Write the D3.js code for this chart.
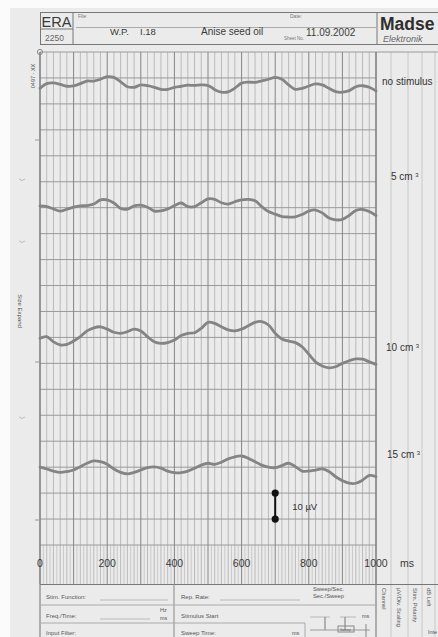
<!DOCTYPE html>
<html><head><meta charset="utf-8">
<script src="https://cdn.jsdelivr.net/npm/d3@7/dist/d3.min.js"></script>
<style>
body{margin:0;background:#fff}
svg{display:block}
text{font-family:"Liberation Sans",Arial,Helvetica,sans-serif}
</style>
</head><body><svg id="c" width="438" height="637"></svg>
<script>
// ---------------- DATA ----------------
const times = [0,20,40,60,80,100,120,140,160,180,200,220,240,260,280,300,320,340,360,380,400,
  420,440,460,480,500,520,540,560,580,600,620,640,660,680,700,720,740,760,780,800,
  820,840,860,880,900,920,940,960,980,1000];
const traceLabels = ["no stimulus", "5 cm", "10 cm", "15 cm"];
const traceSup = ["", "3", "3", "3"];
// baseline of each trace on the sheet (µV, 10 µV per division)
const baselines = [177, 130, 80, 30];
// deviations from the baseline (µV)
const noStimulus = [-1.0,0.8,1.1,0.5,-0.2,-0.1,0.8,1.8,1.8,2.5,3.5,3.2,1.5,-0.4,-0.6,0.3,0,-0.6,-1.4,-1.4,-0.6,
  -0.2,0.2,0.1,0.3,0.1,-1.5,-2.5,-2.4,-0.9,1.0,1.4,1.3,1.9,2.5,3.2,2.5,0.3,-1.4,-1.0,-0.1,
  0.7,0.3,-1.0,-2.3,-2.5,-1.9,-0.4,0,-0.6,-2.0];
const cm5 = [0.7,0.4,-0.5,-1.3,-0.6,0.2,0.7,0.8,1.4,3.0,3.0,1.8,-0.3,-0.6,0.7,1.0,0.2,-1.3,-1.2,-0.5,0.8,
  1.8,0.4,0.4,1.9,3.4,3.2,1.9,1.4,2.3,3.0,3.2,2.7,0.4,-1.5,-2.5,-3.4,-3.6,-3.5,-2.6,-1.3,
  -0.9,-2.0,-4.0,-4.7,-4.5,-3.0,-1.1,-0.7,-1.5,-3.0];
const cm10 = [-0.3,0.3,-1.7,-2.9,-2.7,-1.4,0.3,2.5,3.7,4.1,3.2,2.0,1.6,2.2,3.2,2.5,0.3,-1.7,-2.3,-2.0,-1.0,
  0.7,1.6,1.8,3.5,5.8,5.4,4.1,2.9,2.5,3.2,4.5,5.8,6.1,4.8,1.6,-0.6,-1.4,-2.0,-3.6,-6.5,
  -9.4,-11.0,-11.7,-11.3,-10.0,-9.0,-8.3,-8.4,-9.4,-10.4];
const cm15 = [0,-0.7,-1.5,-2.0,-1.7,-1.1,0.2,1.5,2.4,2.1,1.1,-0.7,-2.0,-2.6,-2.0,-1.1,-0.2,0.1,-0.4,-1.5,-2.1,
  -2.1,-1.5,-0.4,0.8,1.5,1.1,1.9,3.2,4.0,4.3,3.4,2.1,0.8,0,-0.2,0.6,1.5,0.2,-1.5,-1.5,
  -1.1,-0.7,-1.7,-3.7,-5.2,-6.2,-6.2,-5.0,-3.2,-3.7];
const series = [noStimulus, cm5, cm10, cm15];
const xTicks = [0, 200, 400, 600, 800, 1000];
const scaleBarTime = 700;
const scaleBarRange = [10, 20];   // µV
const scaleBarLabel = "10 µV";

// ---------------- LAYOUT ----------------
const W = 438, H = 637;
const svg = d3.select("#c");
const x = d3.scaleLinear().domain([0, 1000]).range([40, 376]);
const y = d3.scaleLinear().domain([0, 190]).range([545, 52]);
const labelLevels = [178.5, 142, 76, 34.7];
const labelX = [382, 391, 386, 387];

// sheet background
svg.append("rect").attr("width", W).attr("height", H).attr("fill", "#fbfbfb");
svg.append("rect").attr("x", 10).attr("y", 8).attr("width", W - 10).attr("height", H - 8).attr("fill", "#ebebeb");

// ---- grid ----
const g = svg.append("g");
// right-hand columns
[391, 408, 422, 435].forEach(cx => g.append("line").attr("x1", cx).attr("x2", cx)
  .attr("y1", 52).attr("y2", H).attr("stroke", "#c4c4c4").attr("stroke-width", 0.9));
// minor verticals (20 ms)
d3.range(0, 1001, 20).filter(t => t % 100 !== 0).forEach(t => {
  g.append("line").attr("x1", x(t)).attr("x2", x(t)).attr("y1", y(190)).attr("y2", 584)
    .attr("stroke", "#b4b4b4").attr("stroke-width", 0.9);
});
// 10 ms ticks in the label band
d3.range(0, 1001, 10).filter(t => t % 20 !== 0).forEach(t => {
  g.append("line").attr("x1", x(t)).attr("x2", x(t)).attr("y1", y(0)).attr("y2", 584)
    .attr("stroke", "#c0c0c0").attr("stroke-width", 0.8);
});
// horizontal lines every 10 µV
d3.range(0, 191, 10).forEach(v => {
  g.append("line").attr("x1", x(0)).attr("x2", v === 190 ? W : x(1000)).attr("y1", y(v)).attr("y2", y(v))
    .attr("stroke", "#9a9a9a").attr("stroke-width", 1);
});
// major verticals (100 ms)
d3.range(0, 1001, 100).forEach(t => {
  g.append("line").attr("x1", x(t)).attr("x2", x(t)).attr("y1", y(190)).attr("y2", 584)
    .attr("stroke", "#858585").attr("stroke-width", 1);
});
g.append("line").attr("x1", x(1000)).attr("x2", x(1000)).attr("y1", y(190)).attr("y2", H)
  .attr("stroke", "#7a7a7a").attr("stroke-width", 1.1);
g.append("line").attr("x1", x(0)).attr("x2", x(0)).attr("y1", y(190)).attr("y2", H)
  .attr("stroke", "#7a7a7a").attr("stroke-width", 1.1);
// small registration mark
svg.append("circle").attr("cx", x(0)).attr("cy", y(190)).attr("r", 2.6).attr("fill", "none").attr("stroke", "#888");

// ---- traces ----
const line = d3.line().x(d => x(d[0])).y(d => y(d[1])).curve(d3.curveCatmullRom.alpha(0.5));
series.forEach((s, i) => {
  const pts = times.map((t, k) => [t, baselines[i] + s[k]]);
  svg.append("path").attr("d", line(pts)).attr("fill", "none")
    .attr("stroke", "#848484").attr("stroke-width", 2.8).attr("stroke-linejoin", "round")
    .attr("stroke-linecap", "round");
});

// ---- trace labels ----
traceLabels.forEach((lab, i) => {
  const t = svg.append("text").attr("x", labelX[i]).attr("y", y(labelLevels[i]) + 3.5)
    .attr("font-size", 10).attr("fill", "#333").text(lab);
  if (traceSup[i]) t.append("tspan").attr("dx", 2.5).attr("dy", -3).attr("font-size", 6).text(traceSup[i]);
});

// ---- scale bar ----
svg.append("line").attr("x1", x(scaleBarTime)).attr("x2", x(scaleBarTime))
  .attr("y1", y(scaleBarRange[0])).attr("y2", y(scaleBarRange[1])).attr("stroke", "#111").attr("stroke-width", 2);
scaleBarRange.forEach(v => svg.append("circle").attr("cx", x(scaleBarTime)).attr("cy", y(v)).attr("r", 3.6).attr("fill", "#111"));
svg.append("text").attr("x", x(scaleBarTime) + 17).attr("y", y(d3.mean(scaleBarRange)) + 3.5)
  .attr("font-size", 9.5).attr("fill", "#333").text(scaleBarLabel);

// ---- x axis labels ----
xTicks.forEach(t => svg.append("text").attr("x", x(t)).attr("y", 567).attr("text-anchor", "middle")
  .attr("font-size", 10.5).attr("fill", "#3a3a3a").text(t));
svg.append("text").attr("x", 407).attr("y", 567).attr("text-anchor", "middle")
  .attr("font-size", 10.5).attr("fill", "#3a3a3a").text("ms");

// ---- header ----
const hd = svg.append("g").attr("stroke", "#777").attr("fill", "none").attr("stroke-width", 1);
hd.append("rect").attr("x", 40.5).attr("y", 12.5).attr("width", W - 40).attr("height", 32);
hd.append("line").attr("x1", 73).attr("x2", 73).attr("y1", 12).attr("y2", 45);
hd.append("line").attr("x1", 377).attr("x2", 377).attr("y1", 12).attr("y2", 45);
hd.append("line").attr("x1", 40).attr("x2", 73).attr("y1", 29).attr("y2", 29);
hd.append("line").attr("x1", 76).attr("x2", 377).attr("y1", 27.5).attr("y2", 27.5).attr("stroke", "#aaa");
const ht = (tx, xx, yy, fs, extra) => {
  const e = svg.append("text").attr("x", xx).attr("y", yy).attr("font-size", fs).attr("fill", "#3a3a3a").text(tx);
  if (extra) extra(e);
  return e;
};
ht("ERA", 41.5, 27, 14.5);
ht("2250", 45, 41, 8.5, e => e.attr("fill", "#666"));
ht("File:", 78, 18, 5, e => e.attr("fill", "#777"));
ht("Date:", 290, 18, 5, e => e.attr("fill", "#777"));
ht("W.P.", 110, 35, 9.5);
ht("I.18", 140, 35, 9.5);
ht("Anise seed oil", 201, 35, 10);
ht("Sheet No.", 284, 39.5, 4.5, e => e.attr("fill", "#777"));
ht("11.09.2002", 306, 35.5, 10);
ht("Madse", 380, 30, 17.5, e => e.attr("font-weight", "bold").attr("fill", "#2e2e2e"));
ht("Elektronik", 383, 42, 9, e => e.attr("font-style", "italic").attr("fill", "#666")
  .attr("font-family", "DejaVu Serif, serif"));

// ---- left margin ----
svg.append("text").attr("transform", "translate(35,76) rotate(-90)").attr("text-anchor", "middle")
  .attr("font-size", 5.5).attr("fill", "#555").text("0497 - XX");
svg.append("text").attr("transform", "translate(18,311) rotate(90)").attr("text-anchor", "middle")
  .attr("font-size", 6).attr("fill", "#555").text("Size Expand");
[140, 362, 520].forEach(yy => svg.append("line").attr("x1", 35).attr("x2", 40).attr("y1", yy).attr("y2", yy)
  .attr("stroke", "#999"));
[180, 242, 418].forEach(yy => svg.append("path")
  .attr("d", `M19,${yy - 1} Q22,${yy + 2} 25,${yy - 1}`).attr("fill", "none").attr("stroke", "#bbb"));

// ---- bottom form ----
const fm = svg.append("g").attr("stroke", "#888").attr("stroke-width", 1).attr("fill", "none");
fm.append("line").attr("x1", 40).attr("x2", W).attr("y1", 584.5).attr("y2", 584.5).attr("stroke", "#777");
fm.append("line").attr("x1", 174).attr("x2", 174).attr("y1", 584).attr("y2", H);
fm.append("line").attr("x1", 40).attr("x2", 377).attr("y1", 605).attr("y2", 605).attr("stroke", "#aaa");
fm.append("line").attr("x1", 40).attr("x2", 305).attr("y1", 623).attr("y2", 623).attr("stroke", "#aaa");
fm.append("line").attr("x1", 305).attr("x2", 305).attr("y1", 623).attr("y2", H).attr("stroke", "#aaa");
// underlines
[[100, 168, 600], [220, 300, 600], [100, 150, 619], [310, 330, 617], [340, 356, 617]].forEach(a =>
  fm.append("line").attr("x1", a[0]).attr("x2", a[1]).attr("y1", a[2]).attr("y2", a[2]).attr("stroke", "#999").attr("stroke-width", 0.6));
// timing diagram
fm.append("line").attr("x1", 325).attr("x2", 325).attr("y1", 617).attr("y2", 630).attr("stroke", "#777");
fm.append("line").attr("x1", 345).attr("x2", 345).attr("y1", 617).attr("y2", 630).attr("stroke", "#777");
fm.append("line").attr("x1", 310).attr("x2", 370).attr("y1", 630).attr("y2", 630).attr("stroke", "#999");
fm.append("rect").attr("x", 338).attr("y", 626).attr("width", 16).attr("height", 6).attr("stroke", "#888");
fm.append("line").attr("x1", 366).attr("x2", 366).attr("y1", 624).attr("y2", 637).attr("stroke", "#888");
const ft = (tx, xx, yy, fs = 6) => svg.append("text").attr("x", xx).attr("y", yy).attr("font-size", fs)
  .attr("fill", "#555").text(tx);
ft("Stim. Function:", 46, 599);
ft("Rep. Rate:", 181, 599);
ft("Sweep/Sec.", 313, 590.5, 5.8);
ft("Sec./Sweep", 313, 598, 5.8);
ft("Freq./Time:", 46, 618);
ft("Hz", 160, 612, 5.5);
ft("ms", 160, 620, 5.5);
ft("Stimulus Start", 181, 618);
ft("ms", 362, 618, 5.5);
ft("Input Filter:", 46, 635);
ft("Sweep Time:", 181, 635);
ft("ms", 292, 635, 5.5);
ft("Sweep", 340, 631, 3.5);
ft("Inte", 428, 634, 5.5);
[["Channel", 382], ["µV/Div. Scaling", 397], ["Stim. Polarity", 413], ["dB Left", 427]].forEach(a =>
  svg.append("text").attr("transform", `translate(${a[1]},588) rotate(90)`).attr("font-size", 5.8)
    .attr("fill", "#555").text(a[0]));
</script>
</body></html>
